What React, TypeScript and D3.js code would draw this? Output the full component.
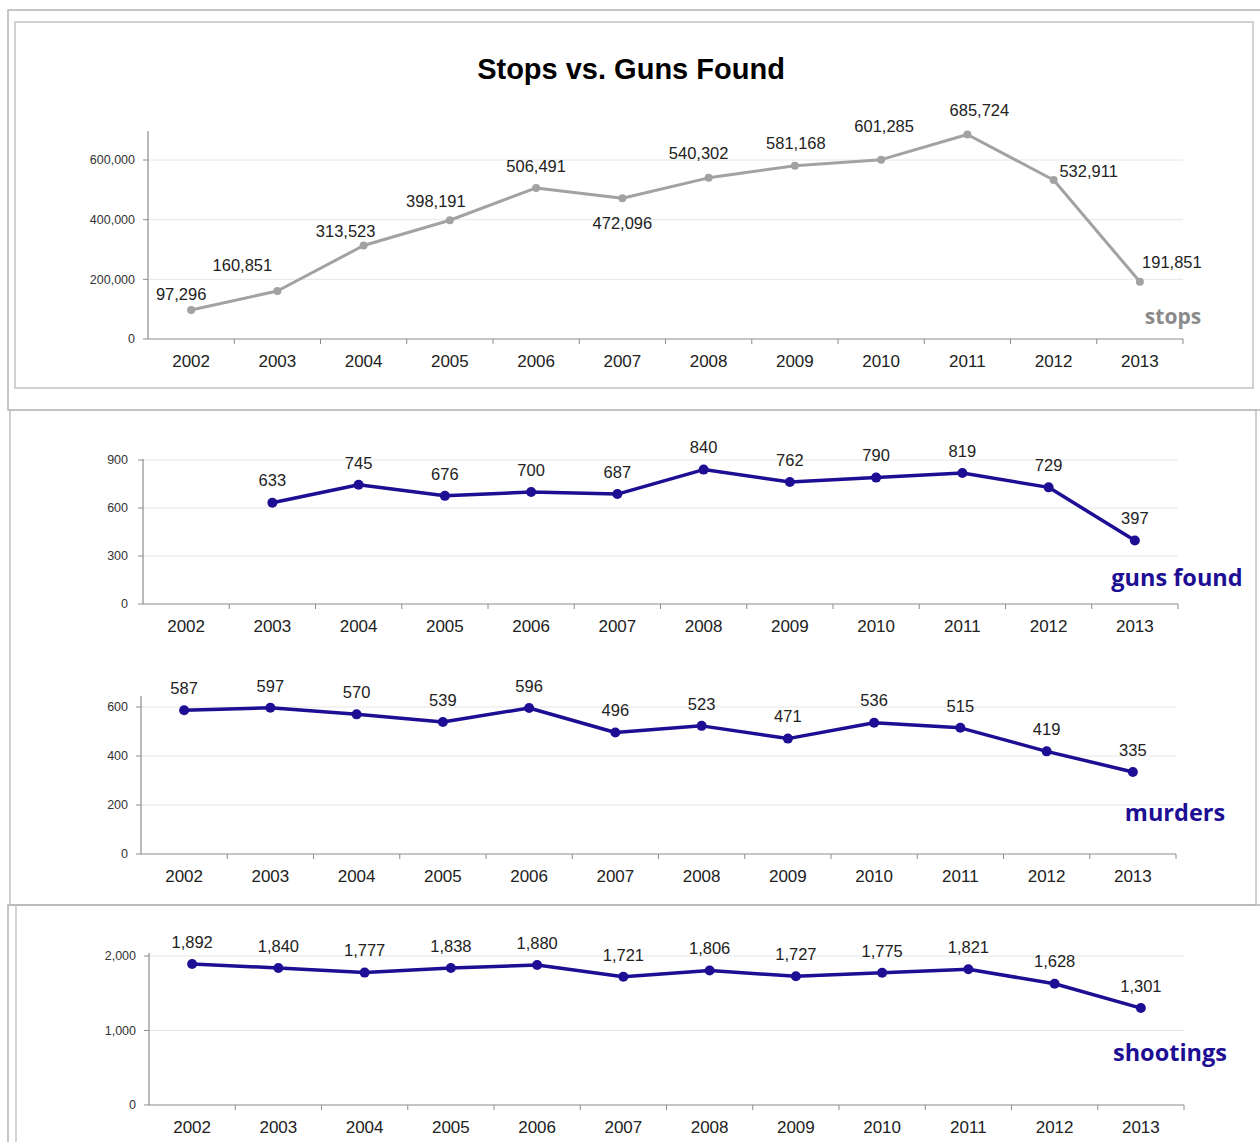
import React from 'react';
import * as d3 from 'd3';

const years = ['2002', '2003', '2004', '2005', '2006', '2007', '2008', '2009', '2010', '2011', '2012', '2013'];
const stops = [97296, 160851, 313523, 398191, 506491, 472096, 540302, 581168, 601285, 685724, 532911, 191851];
const gunsFound: (number | null)[] = [null, 633, 745, 676, 700, 687, 840, 762, 790, 819, 729, 397];
const murders = [587, 597, 570, 539, 596, 496, 523, 471, 536, 515, 419, 335];
const shootings = [1892, 1840, 1777, 1838, 1880, 1721, 1806, 1727, 1775, 1821, 1628, 1301];

const stopsTicks = [0, 200000, 400000, 600000];
const gunsTicks = [0, 300, 600, 900];
const murdersTicks = [0, 200, 400, 600];
const shootingsTicks = [0, 1000, 2000];

// hand placed label offsets for the stops line (dx, dy from the point)
const stopsLabelOffsets: [number, number][] = [
  [-10, -16], [-35, -26], [-18, -14], [-14, -19], [0, -22], [0, 25],
  [-10, -25], [1, -22], [3, -33], [12, -24], [35, -9], [32, -20]
];

const FONT = '"Liberation Sans", Arial, sans-serif';
const LABEL_FONT = '"Open Sans", "DejaVu Sans", sans-serif';
const BLUE = '#1d0e94';
const GRAY = '#a2a2a2';

interface PanelProps {
  values: (number | null)[];
  ticks: number[];
  domainMax: number;
  x0: number;
  y0: number;
  yMax: number;
  axisTop: number;
  color: string;
  dotR: number;
  lineW: number;
  name: string;
  nameX: number;
  nameY: number;
  nameSize: number;
  nameColor: string;
  tickGap: number;
  offsets?: [number, number][];
}

const fmt = d3.format(',');

const Panel: React.FC<PanelProps> = (p) => {
  const x = d3.scaleBand<string>().domain(years).range([p.x0, p.x0 + 1035]).padding(0);
  const y = d3.scaleLinear().domain([0, p.domainMax]).range([p.y0, p.yMax]);
  const cx = (i: number) => (x(years[i]) as number) + x.bandwidth() / 2;

  const pts = p.values.map((v, i) => ({ v, i })).filter(d => d.v !== null) as { v: number; i: number }[];
  const line = d3.line<{ v: number; i: number }>()
    .x(d => cx(d.i))
    .y(d => y(d.v));

  return (
    <g>
      {/* grid */}
      {p.ticks.filter(t => t > 0).map(t => (
        <line key={'g' + t} x1={p.x0} x2={p.x0 + 1035} y1={y(t)} y2={y(t)} stroke="#e6e6e6" strokeWidth={1} />
      ))}
      {/* y axis */}
      <line x1={p.x0} x2={p.x0} y1={p.axisTop} y2={p.y0} stroke="#8c8c8c" strokeWidth={1.2} />
      {p.ticks.map(t => (
        <g key={'t' + t}>
          <line x1={p.x0 - 5} x2={p.x0} y1={y(t)} y2={y(t)} stroke="#8c8c8c" />
          <text x={p.x0 - p.tickGap} y={y(t)} dy="0.35em" textAnchor="end" fontFamily={FONT} fontSize={12.5} fill="#333">
            {fmt(t)}
          </text>
        </g>
      ))}
      {/* x axis */}
      <line x1={p.x0} x2={p.x0 + 1035} y1={p.y0} y2={p.y0} stroke="#8c8c8c" strokeWidth={1.2} />
      {years.map((yr, i) => (
        <g key={yr}>
          <line x1={(x(yr) as number) + x.bandwidth()} x2={(x(yr) as number) + x.bandwidth()} y1={p.y0} y2={p.y0 + 5} stroke="#8c8c8c" />
          <text x={cx(i)} y={p.y0 + 28} textAnchor="middle" fontFamily={FONT} fontSize={17} fill="#222">{yr}</text>
        </g>
      ))}
      {/* series */}
      <path d={line(pts) || ''} fill="none" stroke={p.color} strokeWidth={p.lineW} strokeLinejoin="round" />
      {pts.map(d => (
        <circle key={'c' + d.i} cx={cx(d.i)} cy={y(d.v)} r={p.dotR} fill={p.color} />
      ))}
      {pts.map(d => {
        const off = p.offsets ? p.offsets[d.i] : [0, -22];
        return (
          <text key={'l' + d.i} x={cx(d.i) + off[0]} y={y(d.v) + off[1]} dy="0.35em" textAnchor="middle"
            fontFamily={FONT} fontSize={16.5} fill="#222">
            {fmt(d.v)}
          </text>
        );
      })}
      <text x={p.nameX} y={p.nameY} dy="0.35em" textAnchor="middle" fontFamily={LABEL_FONT} fontWeight="bold"
        fontSize={p.nameSize} fill={p.nameColor}>
        {p.name}
      </text>
    </g>
  );
};

const App: React.FC = () => {
  return (
    <div style={{ position: 'absolute', left: 0, top: 0 }}>
      <svg width={1260} height={1142} style={{ display: 'block', background: '#fff' }}>
        {/* panel frames */}
        <rect x={8} y={10} width={1260} height={400} fill="none" stroke="#b4b4b4" strokeWidth={1.5} />
        <rect x={15} y={22} width={1238} height={366} fill="none" stroke="#c4c4c4" strokeWidth={1.5} />
        <rect x={10} y={410} width={1246} height={495} fill="none" stroke="#c0c0c0" strokeWidth={1.5} />
        <rect x={8} y={905} width={1260} height={250} fill="none" stroke="#b4b4b4" strokeWidth={1.5} />
        <line x1={16} x2={16} y1={905} y2={1142} stroke="#c8c8c8" strokeWidth={1.5} />

        <text x={631} y={79} textAnchor="middle" fontFamily={FONT} fontWeight="bold" fontSize={29} fill="#000">
          Stops vs. Guns Found
        </text>

        <Panel values={stops} ticks={stopsTicks} domainMax={700000} x0={148} y0={339} yMax={130.2} axisTop={131}
          color={GRAY} dotR={4} lineW={3} name="stops" nameX={1173} nameY={317} nameSize={21} nameColor="#8a8a8a"
          tickGap={13} offsets={stopsLabelOffsets} />

        <Panel values={gunsFound} ticks={gunsTicks} domainMax={900} x0={143} y0={604} yMax={460} axisTop={459}
          color={BLUE} dotR={5} lineW={3.5} name="guns found" nameX={1177} nameY={578} nameSize={23.5} nameColor={BLUE}
          tickGap={15} />

        <Panel values={murders} ticks={murdersTicks} domainMax={600} x0={141} y0={854} yMax={707} axisTop={696}
          color={BLUE} dotR={5} lineW={3.5} name="murders" nameX={1175} nameY={813} nameSize={23.5} nameColor={BLUE}
          tickGap={13} />

        <Panel values={shootings} ticks={shootingsTicks} domainMax={2000} x0={149} y0={1105} yMax={956} axisTop={953}
          color={BLUE} dotR={5} lineW={3.5} name="shootings" nameX={1170} nameY={1053} nameSize={23.5} nameColor={BLUE}
          tickGap={13} />
      </svg>
    </div>
  );
};

export default App;
